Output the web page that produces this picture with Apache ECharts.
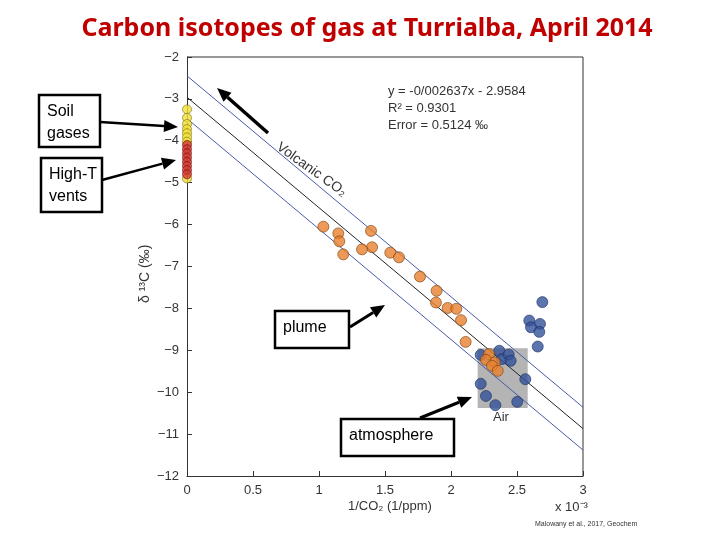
<!DOCTYPE html>
<html><head><meta charset="utf-8">
<script src="https://cdn.jsdelivr.net/npm/echarts@6/dist/echarts.min.js"></script>
<style>html,body{margin:0;background:#fff}#c{width:720px;height:540px}</style>
</head><body><div id="c"></div>
<script>
const plumeX=[1.033,1.146,1.154,1.184,1.394,1.402,1.326,1.540,1.606,1.765,1.891,1.886,1.975,2.040,2.076,2.111,2.288,2.265,2.331,2.311,2.354];
const plumeY=[-6.05,-6.21,-6.40,-6.71,-6.15,-6.54,-6.59,-6.67,-6.78,-7.24,-7.58,-7.86,-7.99,-8.01,-8.28,-8.80,-9.09,-9.23,-9.29,-9.37,-9.49];
const airX=[2.225,2.366,2.386,2.437,2.452,2.563,2.225,2.265,2.336,2.502,2.692,2.593,2.674,2.606,2.669,2.657];
const airY=[-9.11,-9.01,-9.21,-9.10,-9.25,-9.69,-9.80,-10.09,-10.31,-10.23,-7.85,-8.29,-8.37,-8.45,-8.56,-8.91];
const soilY=[-3.25,-3.45,-3.6,-3.72,-3.82,-3.92,-4.02,-4.9];
const ventY=[-4.1,-4.2,-4.3,-4.4,-4.5,-4.6,-4.7,-4.8];
const lineX=[0,3];
const fitY=[-2.96,-10.87];
const upperY=[-2.45,-10.36];
const lowerY=[-3.47,-11.38];
const airBoxX=[2.202,2.581];
const airBoxY=[-8.95,-10.38];
const xTicks=[0,0.5,1,1.5,2,2.5,3];

const zip=(a,b)=>a.map((v,i)=>[v,b[i]]);
const ch=echarts.init(document.getElementById('c'));
const fnt='Liberation Sans, Arial, sans-serif';
const arrow=(x1,y1,x2,y2,w)=>{
  const a=Math.atan2(y2-y1,x2-x1),L=14,H=6;
  const bx=x2-L*Math.cos(a),by=y2-L*Math.sin(a);
  return [{type:'line',shape:{x1,y1,x2:bx,y2:by},style:{stroke:'#000',lineWidth:w},z:50},
   {type:'polygon',shape:{points:[[x2,y2],[bx+H*Math.sin(a),by-H*Math.cos(a)],[bx-H*Math.sin(a),by+H*Math.cos(a)]]},style:{fill:'#000'},z:50}];
};
const box=(x,y,w,h,t)=>({type:'group',z:60,children:[
  {type:'rect',shape:{x,y,width:w,height:h},style:{fill:'#fff',stroke:'#000',lineWidth:2.5}},
  {type:'text',x:x+8,y:y+6,style:{text:t,font:'16px '+fnt,fill:'#000',lineHeight:22}}]});
const ls=(c,w)=>({color:c,width:w});
ch.setOption({
  animation:false,
  grid:{left:187,right:137,top:57,bottom:64},
  title:{text:'Carbon isotopes of gas at Turrialba, April 2014',left:362,top:11,textAlign:'center',
    textStyle:{color:'#c00000',fontSize:25,fontWeight:'bold',fontFamily:'Noto Sans, sans-serif'}},
  xAxis:{type:'value',min:0,max:3,interval:0.5,
    axisLine:{lineStyle:{color:'#333'}},axisTick:{inside:true,length:5},splitLine:{show:false},
    axisLabel:{color:'#333',fontSize:13,fontFamily:fnt,formatter:v=>xTicks.includes(v)?String(v):''}},
  yAxis:{type:'value',min:-12,max:-2,interval:1,
    axisLine:{show:true,lineStyle:{color:'#333'}},axisTick:{show:true,inside:true,length:5},splitLine:{show:false},
    axisLabel:{color:'#333',fontSize:13,fontFamily:fnt,formatter:v=>String(v).replace('-','\u2212')}},
  series:[
    {type:'line',data:zip(lineX,upperY),symbol:'none',lineStyle:ls('#4a5aa8',1),silent:true},
    {type:'line',data:zip(lineX,fitY),symbol:'none',lineStyle:ls('#222',1),silent:true},
    {type:'line',data:zip(lineX,lowerY),symbol:'none',lineStyle:ls('#4a5aa8',1),silent:true,
     markArea:{silent:true,itemStyle:{color:'#b4b4b4'},data:[[{coord:[airBoxX[0],airBoxY[0]]},{coord:[airBoxX[1],airBoxY[1]]}]]}},
    {type:'scatter',data:zip(plumeX,plumeY),symbolSize:11,itemStyle:{color:'#e8802e',borderColor:'#7a4010',borderWidth:0.8},z:5},
    {type:'scatter',data:zip(airX,airY),symbolSize:11,itemStyle:{color:'#35539a',borderColor:'#1d2f60',borderWidth:0.8},z:4},
    {type:'scatter',data:soilY.map(y=>[0,y]),symbolSize:9,itemStyle:{color:'#f2e23a',borderColor:'#806f10',borderWidth:0.8},z:6},
    {type:'scatter',data:ventY.map(y=>[0,y]),symbolSize:9,itemStyle:{color:'#d23a30',borderColor:'#701010',borderWidth:0.8},z:6}
  ],
  graphic:[
    {type:'line',shape:{x1:187,y1:57,x2:583,y2:57},style:{stroke:'#333',lineWidth:1}},
    {type:'line',shape:{x1:583,y1:57,x2:583,y2:476},style:{stroke:'#333',lineWidth:1}},
    {type:'text',x:388,y:83,style:{text:'y = -0/002637x - 2.9584\nR\u00b2 = 0.9301\nError = 0.5124 \u2030',font:'13px '+fnt,fill:'#333',lineHeight:17}},
    {type:'text',x:282,y:140,rotation:-0.62,style:{text:'Volcanic CO\u2082',font:'14px '+fnt,fill:'#333'}},
    {type:'text',x:493,y:411,style:{text:'Air',font:'13px '+fnt,fill:'#333'}},
    {type:'text',x:138,y:303,rotation:Math.PI/2,style:{text:'\u03b4 \u00b9\u00b3C (\u2030)',font:'14px '+fnt,fill:'#333'}},
    {type:'text',x:348,y:500,style:{text:'1/CO\u2082 (1/ppm)',font:'13px '+fnt,fill:'#333'}},
    {type:'text',x:555,y:501,style:{text:'x 10\u207b\u00b3',font:'13px '+fnt,fill:'#333'}},
    {type:'text',x:535,y:521,style:{text:'Malowany et al., 2017, Geochem',font:'7px '+fnt,fill:'#333'}},
    ...arrow(268,133,217,88,3.5),
    ...arrow(100,122,178,127,2.5),
    ...arrow(102,180,176,160,2.5),
    ...arrow(350,327,385,305,3),
    ...arrow(420,418,472,397,3),
    box(39,95,61,52,'Soil\ngases'),
    box(41,158,61,54,'High-T\nvents'),
    box(275,311,74,37,'plume'),
    box(341,419,113,37,'atmosphere')
  ]
});
</script></body></html>
